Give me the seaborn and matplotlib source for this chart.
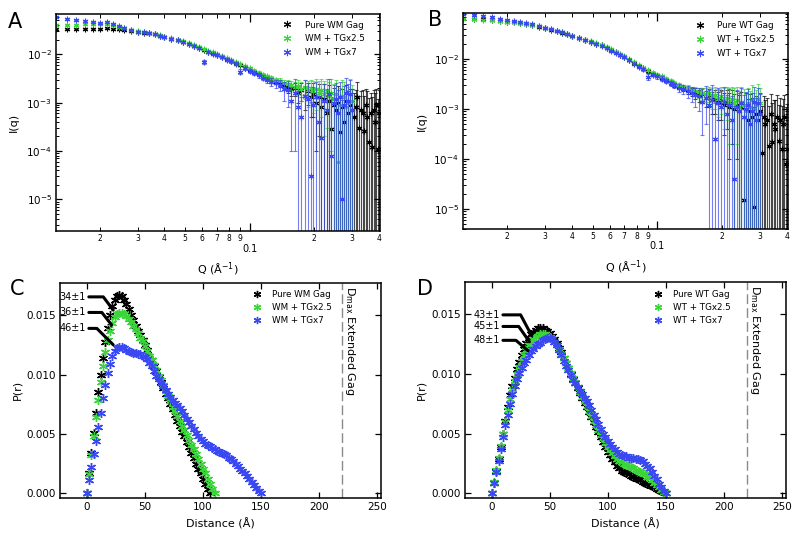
# SAXS curves (A, B) and pair distance distributions (C, D) for WM / WT Gag with TG
import numpy as np
import seaborn as sns
import matplotlib.pyplot as plt
import matplotlib.transforms as mtransforms
from matplotlib.ticker import LogLocator, FuncFormatter, NullFormatter, FixedLocator, FormatStrFormatter

# ---------------- data ----------------
# q grid (1/A) shared by the scattering curves; shorter series use its first points
q_grid = [0.0125, 0.014, 0.0155, 0.017, 0.0185, 0.020, 0.0215, 0.023, 0.0245, 0.026,
          0.028, 0.030, 0.032, 0.034, 0.036, 0.038, 0.040, 0.043, 0.046, 0.049,
          0.052, 0.055, 0.058, 0.061, 0.064, 0.067, 0.070, 0.074, 0.078, 0.082,
          0.086, 0.090, 0.095, 0.100, 0.105, 0.110, 0.115, 0.120, 0.126, 0.132,
          0.138, 0.144, 0.150, 0.156, 0.162, 0.168, 0.174, 0.180, 0.186, 0.192,
          0.198, 0.204, 0.210, 0.216, 0.222, 0.228, 0.234, 0.240, 0.246, 0.252,
          0.258, 0.264, 0.270, 0.276, 0.282, 0.288, 0.294, 0.300, 0.306, 0.312,
          0.318, 0.324, 0.330, 0.336, 0.342, 0.348, 0.354, 0.360, 0.366, 0.372,
          0.378, 0.384, 0.390, 0.396, 0.402]

# panel A : WM Gag
iq_wm_gag = [0.0330, 0.0331, 0.0334, 0.0336, 0.0337, 0.0340, 0.0342, 0.0336, 0.0328, 0.0318,
             0.0306, 0.0294, 0.0282, 0.0270, 0.0258, 0.0244, 0.0229, 0.0212, 0.0196, 0.0180,
             0.0165, 0.0150, 0.0137, 0.0123, 0.0113, 0.0104, 0.0097, 0.0088, 0.0080, 0.0073,
             0.0066, 0.0060, 0.0053, 0.0047, 0.0043, 0.0039, 0.0035, 0.0032, 0.0029, 0.0027,
             0.0025, 0.0022, 0.0021, 0.0019, 0.0020, 0.0016, 0.0018, 0.0014, 0.0017, 0.0013,
             0.0015, 0.0010, 0.0013, 0.0008, 0.0012, 0.0006, 0.0011, 0.00028, 0.0009, 0.0007,
             0.0010, 0.00025, 0.0008, 0.0004, 0.0011, 0.0006, 0.0009, 0.0007, 0.0005, 0.0008,
             0.0013, 0.0003, 0.0007, 0.0006, 0.00026, 0.0009, 0.0005, 0.00015, 0.0006, 0.00012,
             0.0007, 0.0004, 0.0009, 0.00011, 0.0006]
err_wm_gag = [0.0009, 0.0008, 0.0008, 0.0007, 0.0007, 0.0007, 0.0007, 0.0006, 0.0006, 0.0006,
              0.0006, 0.0005, 0.0005, 0.0005, 0.0005, 0.0005, 0.0005, 0.0004, 0.0004, 0.0004,
              0.0004, 0.0004, 0.0004, 0.0003, 0.0003, 0.0003, 0.0003, 0.0003, 0.0003, 0.0003,
              0.0003, 0.0003, 0.0003, 0.0003, 0.0003, 0.0003, 0.0003, 0.0003, 0.0003, 0.0003,
              0.0004, 0.0004, 0.0005, 0.0005, 0.0006, 0.0006, 0.0007, 0.0007, 0.0008, 0.0008,
              0.0010, 0.0009, 0.0011, 0.0009, 0.0012, 0.0008, 0.0012, 0.0010, 0.0011, 0.0009,
              0.0012, 0.0010, 0.0011, 0.0010, 0.0012, 0.0011, 0.0010, 0.0012, 0.0011, 0.0010,
              0.0014, 0.0011, 0.0010, 0.0012, 0.0011, 0.0010, 0.0012, 0.0011, 0.0010, 0.0012,
              0.0011, 0.0012, 0.0010, 0.0011, 0.0012]
iq_wm_tg25 = [0.0400, 0.0405, 0.0410, 0.0415, 0.0418, 0.0420, 0.0415, 0.0400, 0.0375, 0.0350,
              0.0325, 0.0303, 0.0288, 0.0274, 0.0262, 0.0248, 0.0233, 0.0216, 0.0200, 0.0186,
              0.0171, 0.0156, 0.0142, 0.0129, 0.0118, 0.0109, 0.0101, 0.0092, 0.0084, 0.0077,
              0.0070, 0.0064, 0.0057, 0.0051, 0.0046, 0.0042, 0.0038, 0.0035, 0.0032, 0.0030,
              0.0028, 0.0025, 0.0024, 0.0023, 0.0021, 0.0022, 0.0019, 0.0021, 0.0018, 0.0020,
              0.0017, 0.0019, 0.0016, 0.0018, 0.0015, 0.0017, 0.0014, 0.0016, 0.0012, 0.0015,
              0.00006, 0.0009, 0.0014, 0.0013, 0.0008, 0.0010, 0.0015, 0.0011]
err_wm_tg25 = [0.0009, 0.0009, 0.0009, 0.0008, 0.0008, 0.0008, 0.0008, 0.0007, 0.0007, 0.0007,
               0.0006, 0.0006, 0.0006, 0.0005, 0.0005, 0.0005, 0.0005, 0.0004, 0.0004, 0.0004,
               0.0004, 0.0004, 0.0004, 0.0003, 0.0003, 0.0003, 0.0003, 0.0003, 0.0003, 0.0003,
               0.0003, 0.0003, 0.0003, 0.0003, 0.0003, 0.0003, 0.0003, 0.0003, 0.0003, 0.0003,
               0.0004, 0.0004, 0.0005, 0.0005, 0.0006, 0.0007, 0.0008, 0.0009, 0.0010, 0.0010,
               0.0011, 0.0012, 0.0012, 0.0013, 0.0013, 0.0014, 0.0013, 0.0015, 0.0012, 0.0015,
               0.0012, 0.0011, 0.0015, 0.0014, 0.0010, 0.0011, 0.0016, 0.0012]
iq_wm_tg7 = [0.0580, 0.0540, 0.0510, 0.0485, 0.0465, 0.0450, 0.0455, 0.0420, 0.0380, 0.0345,
             0.0315, 0.0296, 0.0283, 0.0270, 0.0257, 0.0243, 0.0228, 0.0210, 0.0194, 0.0178,
             0.0163, 0.0148, 0.0135, 0.0070, 0.0111, 0.0102, 0.0095, 0.0086, 0.0078, 0.0071,
             0.0064, 0.0044, 0.0051, 0.0045, 0.0041, 0.0037, 0.0033, 0.0030, 0.0027, 0.0025,
             0.0023, 0.0019, 0.0018, 0.0011, 0.0016, 0.0008, 0.0005, 0.0014, 0.0012, 0.00003,
             0.0009, 0.0013, 0.0004, 0.00019, 0.0011, 0.0007, 0.0015, 0.00008, 0.0010, 0.0012,
             0.0006, 0.0013, 0.00001, 0.0009, 0.0016, 0.0011, 0.0015, 0.0007]
err_wm_tg7 = [0.0012, 0.0011, 0.0010, 0.0010, 0.0009, 0.0009, 0.0009, 0.0008, 0.0008, 0.0007,
              0.0007, 0.0006, 0.0006, 0.0006, 0.0005, 0.0005, 0.0005, 0.0005, 0.0004, 0.0004,
              0.0004, 0.0004, 0.0004, 0.0006, 0.0004, 0.0004, 0.0004, 0.0004, 0.0004, 0.0004,
              0.0004, 0.0005, 0.0004, 0.0004, 0.0004, 0.0004, 0.0004, 0.0004, 0.0005, 0.0005,
              0.0006, 0.0008, 0.0010, 0.0010, 0.0015, 0.0009, 0.0008, 0.0015, 0.0013, 0.0010,
              0.0012, 0.0014, 0.0010, 0.0011, 0.0013, 0.0012, 0.0016, 0.0011, 0.0013, 0.0014,
              0.0012, 0.0014, 0.0011, 0.0013, 0.0016, 0.0013, 0.0015, 0.0012]

# panel B : WT Gag
iq_wt_gag = [0.0660, 0.0645, 0.0628, 0.0612, 0.0590, 0.0565, 0.0545, 0.0525, 0.0505, 0.0485,
             0.0450, 0.0417, 0.0390, 0.0365, 0.0340, 0.0313, 0.0290, 0.0265, 0.0240, 0.0222,
             0.0205, 0.0188, 0.0168, 0.0150, 0.0136, 0.0123, 0.0110, 0.0096, 0.0083, 0.0073,
             0.0065, 0.0057, 0.0051, 0.0046, 0.0042, 0.0038, 0.0034, 0.0031, 0.0028, 0.0026,
             0.0024, 0.0022, 0.0021, 0.0019, 0.0020, 0.0017, 0.0018, 0.0015, 0.0016, 0.0014,
             0.0015, 0.0012, 0.0014, 0.0011, 0.0013, 0.0010, 0.0012, 0.0009, 0.0011, 0.000015,
             0.0010, 0.0006, 0.0009, 0.0007, 0.000011, 0.0008, 0.0006, 0.0009, 0.00013, 0.0007,
             0.0005, 0.0006, 0.00018, 0.0008, 0.00022, 0.0005, 0.0004, 0.0007, 0.00023, 0.0006,
             0.00016, 0.0005, 0.0007, 0.00008, 0.00016]
err_wt_gag = [0.0012, 0.0011, 0.0011, 0.0010, 0.0010, 0.0009, 0.0009, 0.0009, 0.0008, 0.0008,
              0.0008, 0.0007, 0.0007, 0.0006, 0.0006, 0.0006, 0.0005, 0.0005, 0.0005, 0.0004,
              0.0004, 0.0004, 0.0004, 0.0004, 0.0003, 0.0003, 0.0003, 0.0003, 0.0003, 0.0003,
              0.0003, 0.0003, 0.0003, 0.0003, 0.0003, 0.0003, 0.0003, 0.0003, 0.0003, 0.0003,
              0.0004, 0.0004, 0.0005, 0.0005, 0.0006, 0.0006, 0.0007, 0.0007, 0.0008, 0.0008,
              0.0009, 0.0009, 0.0010, 0.0010, 0.0011, 0.0010, 0.0011, 0.0010, 0.0011, 0.0010,
              0.0011, 0.0010, 0.0011, 0.0010, 0.0011, 0.0010, 0.0011, 0.0012, 0.0010, 0.0011,
              0.0010, 0.0011, 0.0010, 0.0012, 0.0011, 0.0010, 0.0011, 0.0012, 0.0010, 0.0011,
              0.0010, 0.0011, 0.0012, 0.0010, 0.0011]
iq_wt_tg25 = [0.0640, 0.0630, 0.0618, 0.0604, 0.0585, 0.0562, 0.0543, 0.0524, 0.0505, 0.0486,
              0.0452, 0.0420, 0.0394, 0.0369, 0.0345, 0.0318, 0.0295, 0.0270, 0.0246, 0.0228,
              0.0211, 0.0194, 0.0174, 0.0156, 0.0141, 0.0128, 0.0115, 0.0100, 0.0087, 0.0077,
              0.0068, 0.0060, 0.0054, 0.0049, 0.0045, 0.0041, 0.0037, 0.0034, 0.0031, 0.0028,
              0.0026, 0.0024, 0.0023, 0.0022, 0.0021, 0.0020, 0.0021, 0.0018, 0.0019, 0.0016,
              0.0018, 0.0015, 0.0017, 0.0014, 0.0016, 0.0013, 0.0015, 0.0011, 0.0014, 0.0012,
              0.0009, 0.0013, 0.0011, 0.0015, 0.0010, 0.0012, 0.0016, 0.0013]
err_wt_tg25 = [0.0010, 0.0010, 0.0009, 0.0009, 0.0009, 0.0008, 0.0008, 0.0008, 0.0007, 0.0007,
               0.0007, 0.0006, 0.0006, 0.0006, 0.0005, 0.0005, 0.0005, 0.0004, 0.0004, 0.0004,
               0.0004, 0.0004, 0.0004, 0.0003, 0.0003, 0.0003, 0.0003, 0.0003, 0.0003, 0.0003,
               0.0003, 0.0003, 0.0003, 0.0003, 0.0003, 0.0003, 0.0003, 0.0003, 0.0003, 0.0003,
               0.0004, 0.0004, 0.0005, 0.0005, 0.0006, 0.0006, 0.0007, 0.0008, 0.0009, 0.0009,
               0.0010, 0.0011, 0.0011, 0.0012, 0.0012, 0.0013, 0.0013, 0.0012, 0.0014, 0.0013,
               0.0011, 0.0013, 0.0012, 0.0015, 0.0011, 0.0012, 0.0016, 0.0013]
iq_wt_tg7 = [0.0800, 0.0760, 0.0720, 0.0685, 0.0648, 0.0610, 0.0580, 0.0550, 0.0524, 0.0498,
             0.0460, 0.0425, 0.0396, 0.0370, 0.0344, 0.0316, 0.0292, 0.0266, 0.0241, 0.0222,
             0.0204, 0.0186, 0.0166, 0.0148, 0.0134, 0.0120, 0.0108, 0.0094, 0.0081, 0.0071,
             0.0063, 0.0044, 0.0049, 0.0045, 0.0041, 0.0037, 0.0033, 0.0030, 0.0027, 0.0025,
             0.0023, 0.0021, 0.0019, 0.0018, 0.0014, 0.0017, 0.0012, 0.0015, 0.00025, 0.0013,
             0.0011, 0.0014, 0.0008, 0.0012, 0.0006, 0.00004, 0.0011, 0.0009, 0.0013, 0.0007,
             0.0010, 0.0012, 0.0005, 0.0009, 0.0014, 0.0006, 0.0013, 0.0008]
err_wt_tg7 = [0.0013, 0.0012, 0.0011, 0.0011, 0.0010, 0.0010, 0.0009, 0.0009, 0.0008, 0.0008,
              0.0007, 0.0007, 0.0006, 0.0006, 0.0006, 0.0005, 0.0005, 0.0005, 0.0004, 0.0004,
              0.0004, 0.0004, 0.0004, 0.0004, 0.0004, 0.0004, 0.0004, 0.0004, 0.0004, 0.0004,
              0.0004, 0.0006, 0.0004, 0.0004, 0.0004, 0.0004, 0.0004, 0.0004, 0.0005, 0.0005,
              0.0006, 0.0007, 0.0008, 0.0009, 0.0011, 0.0012, 0.0012, 0.0015, 0.0011, 0.0014,
              0.0012, 0.0014, 0.0011, 0.0013, 0.0012, 0.0011, 0.0013, 0.0012, 0.0014, 0.0012,
              0.0012, 0.0013, 0.0011, 0.0012, 0.0014, 0.0011, 0.0014, 0.0012]

# r grid (A) for the P(r) curves; each series uses its first points
r_grid = [0, 2, 4, 6, 8, 10, 12, 14, 16, 18, 20, 22, 24, 26, 28, 30, 32, 34, 36, 38,
          40, 42, 44, 46, 48, 50, 52, 54, 56, 58, 60, 62, 64, 66, 68, 70, 72, 74, 76, 78,
          80, 82, 84, 86, 88, 90, 92, 94, 96, 98, 100, 102, 104, 106, 108, 110, 112, 114, 116, 118,
          120, 122, 124, 126, 128, 130, 132, 134, 136, 138, 140, 142, 144, 146, 148, 150]

# panel C : WM
pr_wm_gag = [0, 0.0017, 0.0034, 0.0051, 0.0068, 0.0085, 0.0100, 0.0114, 0.0127, 0.0139,
             0.0150, 0.0158, 0.0163, 0.0166, 0.0167, 0.0166, 0.0163, 0.0159, 0.0155, 0.0150,
             0.0146, 0.0141, 0.0137, 0.0133, 0.0129, 0.0125, 0.0121, 0.0116, 0.0112, 0.0107,
             0.0103, 0.0098, 0.0094, 0.0089, 0.0084, 0.0080, 0.0075, 0.0071, 0.0066, 0.0061,
             0.0057, 0.0052, 0.0048, 0.0043, 0.0039, 0.0034, 0.0030, 0.0025, 0.0021, 0.0017,
             0.0012, 0.0008, 0.0004, 0]
pr_wm_tg25 = [0, 0.0016, 0.0032, 0.0048, 0.0064, 0.0079, 0.0094, 0.0107, 0.0119, 0.0129,
              0.0137, 0.0143, 0.0148, 0.0151, 0.0152, 0.0152, 0.0151, 0.0149, 0.0147, 0.0144,
              0.0141, 0.0138, 0.0135, 0.0131, 0.0128, 0.0124, 0.0120, 0.0116, 0.0112, 0.0108,
              0.0104, 0.0099, 0.0095, 0.0091, 0.0086, 0.0082, 0.0078, 0.0073, 0.0069, 0.0065,
              0.0061, 0.0057, 0.0053, 0.0049, 0.0045, 0.0041, 0.0037, 0.0033, 0.0029, 0.0025,
              0.0021, 0.0017, 0.0012, 0.0008, 0.0004, 0]
pr_wm_tg7 = [0, 0.0011, 0.0022, 0.0033, 0.0044, 0.0056, 0.0068, 0.0080, 0.0091, 0.0101,
             0.0109, 0.0116, 0.0120, 0.0122, 0.0123, 0.0123, 0.0122, 0.0121, 0.0120, 0.0119,
             0.0118, 0.0118, 0.0117, 0.0117, 0.0116, 0.0115, 0.0113, 0.0110, 0.0107, 0.0103,
             0.0099, 0.0096, 0.0093, 0.0090, 0.0087, 0.0084, 0.0081, 0.0079, 0.0076, 0.0074,
             0.0072, 0.0069, 0.0066, 0.0063, 0.0060, 0.0057, 0.0054, 0.0051, 0.0048, 0.0046,
             0.0044, 0.0042, 0.0041, 0.0040, 0.0038, 0.0037, 0.0036, 0.0035, 0.0034, 0.0033,
             0.0032, 0.0030, 0.0029, 0.0027, 0.0025, 0.0023, 0.0021, 0.0019, 0.0017, 0.0015,
             0.0012, 0.0010, 0.0007, 0.0005, 0.0002, 0]

# panel D : WT
pr_wt_gag = [0, 0.0009, 0.0019, 0.0029, 0.0039, 0.0050, 0.0061, 0.0072, 0.0082, 0.0090,
             0.0097, 0.0104, 0.0110, 0.0116, 0.0121, 0.0126, 0.0130, 0.0133, 0.0135, 0.0137,
             0.0138, 0.0138, 0.0138, 0.0137, 0.0136, 0.0134, 0.0132, 0.0129, 0.0126, 0.0122,
             0.0118, 0.0113, 0.0109, 0.0105, 0.0100, 0.0096, 0.0092, 0.0088, 0.0084, 0.0080,
             0.0076, 0.0072, 0.0068, 0.0064, 0.0060, 0.0056, 0.0051, 0.0047, 0.0043, 0.0039,
             0.0035, 0.0032, 0.0029, 0.0026, 0.0023, 0.0021, 0.0019, 0.0018, 0.0017, 0.0016,
             0.0015, 0.0014, 0.0013, 0.0012, 0.0011, 0.0010, 0.0009, 0.0008, 0.0007, 0.0006,
             0.0005, 0.0004, 0.0003, 0.0002, 0.0001, 0]
pr_wt_tg25 = [0, 0.0010, 0.0020, 0.0030, 0.0040, 0.0050, 0.0060, 0.0070, 0.0079, 0.0087,
              0.0094, 0.0100, 0.0106, 0.0111, 0.0116, 0.0120, 0.0124, 0.0127, 0.0129, 0.0131,
              0.0132, 0.0133, 0.0133, 0.0133, 0.0132, 0.0131, 0.0129, 0.0127, 0.0124, 0.0121,
              0.0117, 0.0113, 0.0109, 0.0105, 0.0101, 0.0097, 0.0093, 0.0089, 0.0085, 0.0081,
              0.0077, 0.0073, 0.0069, 0.0065, 0.0061, 0.0057, 0.0053, 0.0049, 0.0046, 0.0042,
              0.0039, 0.0036, 0.0034, 0.0031, 0.0029, 0.0027, 0.0026, 0.0025, 0.0024, 0.0023,
              0.0022, 0.0021, 0.0020, 0.0019, 0.0018, 0.0017, 0.0016, 0.0014, 0.0013, 0.0011,
              0.0009, 0.0007, 0.0005, 0.0003, 0.0001, 0]
pr_wt_tg7 = [0, 0.0009, 0.0018, 0.0027, 0.0037, 0.0047, 0.0057, 0.0066, 0.0075, 0.0083,
             0.0090, 0.0096, 0.0101, 0.0105, 0.0109, 0.0112, 0.0116, 0.0119, 0.0121, 0.0123,
             0.0125, 0.0126, 0.0128, 0.0129, 0.0130, 0.0130, 0.0129, 0.0127, 0.0124, 0.0120,
             0.0116, 0.0111, 0.0107, 0.0103, 0.0099, 0.0095, 0.0092, 0.0089, 0.0086, 0.0083,
             0.0080, 0.0077, 0.0074, 0.0070, 0.0066, 0.0062, 0.0058, 0.0054, 0.0050, 0.0047,
             0.0044, 0.0041, 0.0039, 0.0037, 0.0035, 0.0033, 0.0032, 0.0031, 0.0031, 0.0030,
             0.0030, 0.0030, 0.0029, 0.0029, 0.0028, 0.0027, 0.0025, 0.0023, 0.0021, 0.0018,
             0.0015, 0.0012, 0.0008, 0.0005, 0.0002, 0]

dmax_extended = 220  # A, extended Gag
wm_peak_labels = ['34\u00b11', '36\u00b11', '46\u00b11']
wt_peak_labels = ['43\u00b11', '45\u00b11', '48\u00b11']
wm_labels = ['Pure WM Gag', 'WM + TGx2.5', 'WM + TGx7']
wt_labels = ['Pure WT Gag', 'WT + TGx2.5', 'WT + TGx7']

c_black, c_green, c_blue = '#000000', '#3bd53b', '#3a48f2'
star = (6, 2, 0)

# ---------------- style ----------------
sns.set_theme(style="ticks")
plt.rcParams['font.family'] = ['DejaVu Sans']
plt.rcParams.update({'axes.linewidth': 1.1, 'xtick.direction': 'in', 'ytick.direction': 'in',
                     'xtick.top': True, 'ytick.right': True,
                     'xtick.major.size': 4.5, 'ytick.major.size': 4.5,
                     'xtick.minor.size': 2.5, 'ytick.minor.size': 2.5,
                     'xtick.major.width': 0.9, 'ytick.major.width': 0.9,
                     'xtick.minor.width': 0.7, 'ytick.minor.width': 0.7,
                     'xtick.color': 'black', 'ytick.color': 'black',
                     'axes.edgecolor': 'black', 'text.color': 'black', 'axes.labelcolor': 'black'})

fig = plt.figure(figsize=(8, 5.4), dpi=100)
ax_a = fig.add_axes([0.070, 0.572, 0.405, 0.402])
ax_b = fig.add_axes([0.579, 0.576, 0.406, 0.400])
ax_c = fig.add_axes([0.075, 0.078, 0.401, 0.398])
ax_d = fig.add_axes([0.581, 0.078, 0.401, 0.400])


def leading_digit(v, pos):
    return '%d' % round(v / 10 ** np.floor(np.log10(v) + 1e-9))


def draw_saxs(ax, series, legend_xy, ylim):
    ax.set_xscale('log')
    ax.set_yscale('log')
    for inten, err, color, label in series:
        qq = q_grid[:len(inten)]
        ax.errorbar(qq, inten, yerr=err, fmt='none', ecolor=color, elinewidth=0.8,
                    capsize=1.6, capthick=0.8, alpha=0.7, label='_nolegend_')
        sns.lineplot(x=qq, y=inten, ax=ax, color=color, marker=star, markersize=4,
                     markeredgecolor=color, markeredgewidth=0.8, linestyle='none',
                     errorbar=None, sort=False, label=label)
    ax.set_xlim(0.01247, 0.405)
    ax.set_ylim(*ylim)
    ax.xaxis.set_major_locator(FixedLocator([0.1]))
    ax.xaxis.set_major_formatter(FuncFormatter(lambda v, p: '0.1'))
    ax.xaxis.set_minor_locator(LogLocator(base=10, subs=np.arange(2, 10), numticks=10))
    ax.xaxis.set_minor_formatter(FuncFormatter(leading_digit))
    ax.yaxis.set_major_locator(LogLocator(base=10, numticks=10))
    ax.yaxis.set_minor_locator(LogLocator(base=10, subs=np.arange(2, 10), numticks=10))
    ax.yaxis.set_minor_formatter(NullFormatter())
    ax.tick_params(axis='x', which='major', labelsize=7, pad=9, length=6)
    ax.tick_params(axis='x', which='minor', labelsize=5.5, pad=2, length=3)
    ax.tick_params(axis='y', which='major', labelsize=7.5, pad=3)
    ax.set_xlabel('Q (\u00c5$^{-1}$)', fontsize=8, labelpad=5)
    ax.set_ylabel('I(q)', fontsize=8, labelpad=5)
    ax.legend(loc='upper left', bbox_to_anchor=legend_xy, frameon=False, fontsize=6.3,
              handlelength=1.2, handletextpad=1.4, labelspacing=0.55, borderaxespad=0,
              borderpad=0, markerscale=1.3)


def draw_pr(ax, series, legend_xy, peaks):
    for p, color, label in series:
        sns.lineplot(x=r_grid[:len(p)], y=p, ax=ax, color=color, marker=star, markersize=6.5,
                     markeredgecolor=color, markeredgewidth=1.0, linestyle='none',
                     errorbar=None, sort=False, label=label)
    ax.axvline(dmax_extended, color='#8a8a8a', linestyle=(0, (7, 3)), linewidth=1.0)
    trans = mtransforms.blended_transform_factory(ax.transData, ax.transAxes)
    ax.text(dmax_extended + 6.5, 0.985, 'D$_{\\mathregular{max}}$ Extended Gag', transform=trans,
            rotation=270, ha='center', va='top', fontsize=8)
    for text, xytext, xy, ang in peaks:
        ax.annotate(text, xy=xy, xytext=xytext, ha='right', va='center', fontsize=7,
                    arrowprops=dict(arrowstyle='-', color='black', lw=2.2, shrinkA=0, shrinkB=0,
                                    relpos=(1, 0.5),
                                    connectionstyle='angle,angleA=0,angleB=%d,rad=0' % ang))
    ax.set_xlim(-23, 253)
    ax.set_ylim(-0.00037, 0.0177)
    ax.set_xticks([0, 50, 100, 150, 200, 250])
    ax.set_yticks([0, 0.005, 0.010, 0.015])
    ax.yaxis.set_major_formatter(FormatStrFormatter('%.3f'))
    ax.tick_params(axis='both', which='major', labelsize=7.5, pad=3)
    ax.set_xlabel('Distance (\u00c5)', fontsize=8, labelpad=4)
    ax.set_ylabel('P(r)', fontsize=8, labelpad=3)
    ax.legend(loc='upper left', bbox_to_anchor=legend_xy, frameon=False, fontsize=6.3,
              handlelength=1.2, handletextpad=1.1, labelspacing=0.45, borderaxespad=0,
              borderpad=0, markerscale=0.8)


draw_saxs(ax_a, [(iq_wm_gag, err_wm_gag, c_black, wm_labels[0]),
                 (iq_wm_tg25, err_wm_tg25, c_green, wm_labels[1]),
                 (iq_wm_tg7, err_wm_tg7, c_blue, wm_labels[2])],
          (0.697, 0.970), (2.2e-6, 0.068))
draw_saxs(ax_b, [(iq_wt_gag, err_wt_gag, c_black, wt_labels[0]),
                 (iq_wt_tg25, err_wt_tg25, c_green, wt_labels[1]),
                 (iq_wt_tg7, err_wt_tg7, c_blue, wt_labels[2])],
          (0.712, 0.962), (4.0e-6, 0.084))

draw_pr(ax_c, [(pr_wm_gag, c_black, wm_labels[0]),
               (pr_wm_tg25, c_green, wm_labels[1]),
               (pr_wm_tg7, c_blue, wm_labels[2])],
        (0.597, 0.966),
        [(wm_peak_labels[0], (-1, 0.01653), (22.8, 0.01542), 127),
         (wm_peak_labels[1], (-1, 0.01522), (21.4, 0.01417), 128),
         (wm_peak_labels[2], (-1, 0.01388), (22.8, 0.01250), 135)])
draw_pr(ax_d, [(pr_wt_gag, c_black, wt_labels[0]),
               (pr_wt_tg25, c_green, wt_labels[1]),
               (pr_wt_tg7, c_blue, wt_labels[2])],
        (0.585, 0.962),
        [(wt_peak_labels[0], (7, 0.01494), (34.6, 0.01319), 118),
         (wt_peak_labels[1], (7, 0.01397), (32.6, 0.01269), 125),
         (wt_peak_labels[2], (7, 0.01281), (31.3, 0.01194), 139)])

for letter, x, y in [('A', 15, 22), ('B', 435, 20), ('C', 17, 289), ('D', 425, 289)]:
    fig.text(x / 800, 1 - y / 540, letter, fontsize=15, ha='center', va='center')

plt.savefig('out.png', dpi=100)
plt.close()
